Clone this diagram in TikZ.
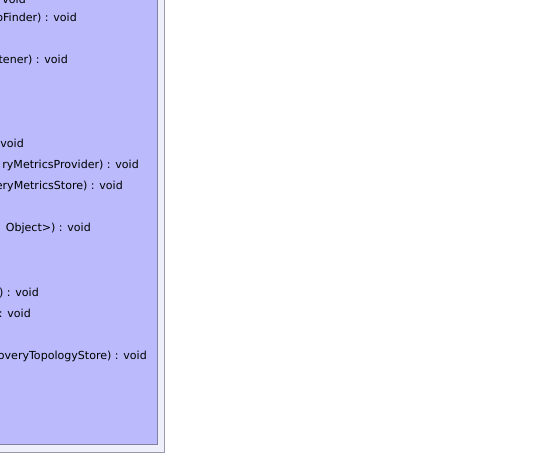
\documentclass[tikz,border=0pt]{standalone}
\usepackage{fontspec}
\setmainfont{DejaVu Sans}
\definecolor{panelfill}{HTML}{EFEFFB}
\definecolor{panelline}{HTML}{9A9AAA}
\definecolor{boxfill}{HTML}{BABAFD}
\definecolor{boxline}{HTML}{8080A0}
\begin{document}
\begin{tikzpicture}[x=1bp,y=-1bp,
  member/.style={anchor=base east,inner sep=0pt,font=\fontsize{11.1}{13}\selectfont,text=black},
  frame/.style={line width=1bp,inner sep=0pt,outer sep=0pt,anchor=north west}]
\useasboundingbox (0,0) rectangle (559,454);
\clip (0,0) rectangle (559,454);
\fill[white] (0,0) rectangle (559,454);
\node[frame,draw=panelline,fill=panelfill,minimum width=174bp,minimum height=462bp] (panel) at (-10,-10) {};
\node[frame,draw=boxline,fill=boxfill,minimum width=167bp,minimum height=454bp] (cls) at (-10,-10) {};
\node[member] (m0) at (26,4) {void};
\node[member] (m1) at (77,22) {oFinder) : void};
\node[member] (m2) at (68,64) {tener) : void};
\node[member] (m3) at (24,148) {void};
\node[member] (m4) at (139,169) {ryMetricsProvider) : void};
\node[member] (m5) at (123,190) {eryMetricsStore) : void};
\node[member] (m6) at (91,232) {Object>) : void};
\node[member] (m7) at (39,296) {) : void};
\node[member] (m8) at (31,317) {: void};
\node[member] (m9) at (147,359) {overyTopologyStore) : void};
\end{tikzpicture}
\end{document}
